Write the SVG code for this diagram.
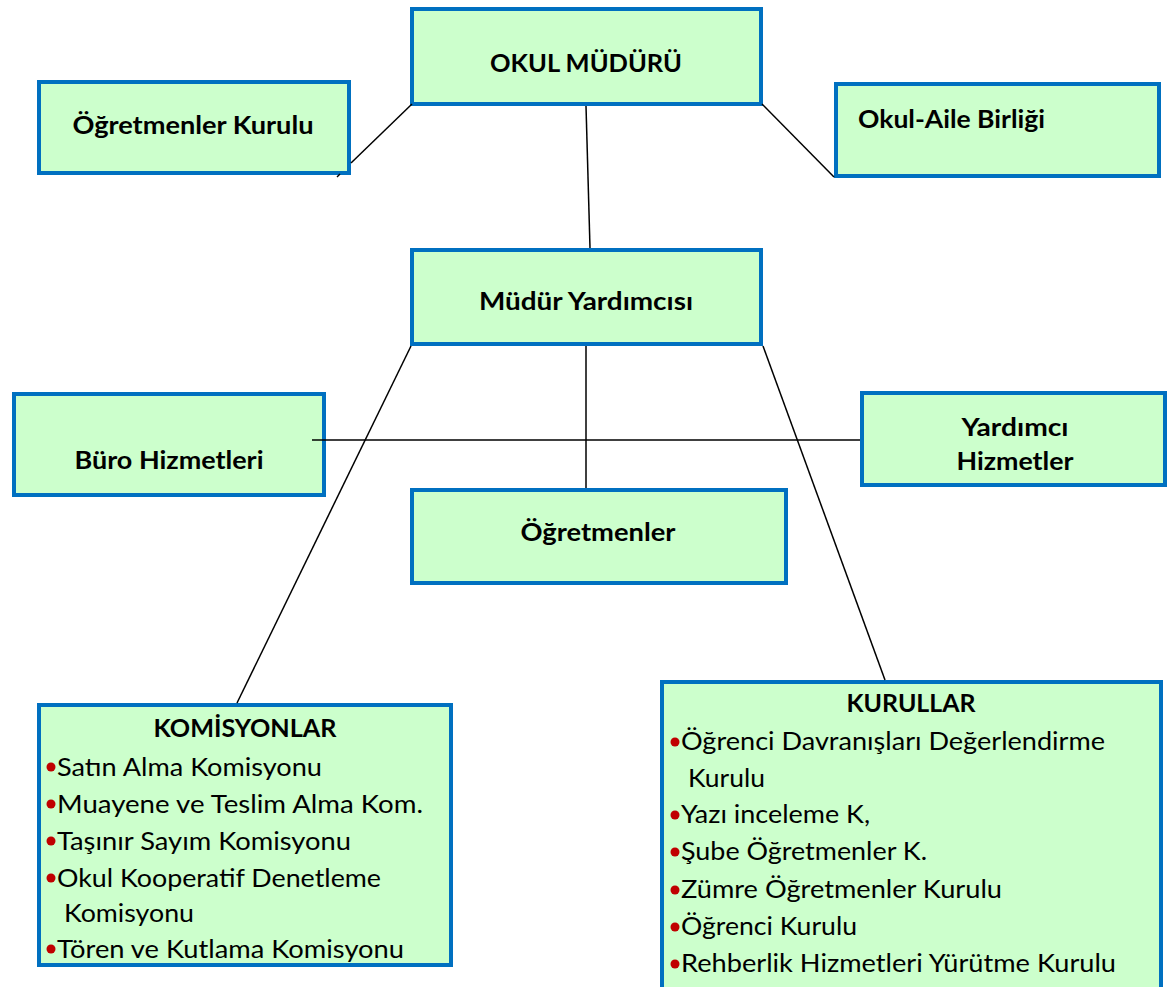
<svg xmlns="http://www.w3.org/2000/svg" width="1168" height="987" viewBox="0 0 1168 987">
<style>
.box{fill:#CCFFCC;stroke:#0070C0;stroke-width:4}
.ln{stroke:#000;stroke-width:1.5;fill:none}
.t{font-family:Lato,"Liberation Sans",sans-serif;font-weight:bold;font-size:25px;fill:#000;text-anchor:middle}
.i{font-family:Lato,"Liberation Sans",sans-serif;font-size:25px;fill:#000}
.b{fill:#C00000}
</style>
<rect width="1168" height="987" fill="#fff"/>
<g id="okul-muduru"><rect class="box" x="412" y="9" width="349" height="95"/><text class="t" x="586" y="72" textLength="192" lengthAdjust="spacingAndGlyphs">OKUL MÜDÜRÜ</text></g>
<g id="ogretmenler-kurulu"><rect class="box" x="39" y="82" width="310" height="91"/><text class="t" x="193" y="134" textLength="241" lengthAdjust="spacingAndGlyphs">Öğretmenler Kurulu</text></g>
<g id="okul-aile"><rect class="box" x="836" y="84" width="323" height="92"/><text class="t" x="858" y="128" style="text-anchor:start" textLength="187" lengthAdjust="spacingAndGlyphs">Okul-Aile Birliği</text></g>
<g id="mudur-yardimcisi"><rect class="box" x="412" y="250" width="349" height="94"/><text class="t" x="586" y="310" textLength="214" lengthAdjust="spacingAndGlyphs">Müdür Yardımcısı</text></g>
<g id="buro"><rect class="box" x="14" y="394" width="310" height="101"/><text class="t" x="169" y="469" textLength="189" lengthAdjust="spacingAndGlyphs">Büro Hizmetleri</text></g>
<g id="yardimci"><rect class="box" x="862" y="393" width="303" height="92"/><text class="t" x="1015" y="436" textLength="107" lengthAdjust="spacingAndGlyphs">Yardımcı</text><text class="t" x="1015" y="470" textLength="117" lengthAdjust="spacingAndGlyphs">Hizmetler</text></g>
<g id="ogretmenler"><rect class="box" x="412" y="490" width="374" height="93"/><text class="t" x="598" y="541" textLength="155" lengthAdjust="spacingAndGlyphs">Öğretmenler</text></g>
<g id="komisyonlar"><rect class="box" x="39" y="705" width="412" height="260"/>
<text class="t" x="245" y="737" textLength="183" lengthAdjust="spacingAndGlyphs">KOMİSYONLAR</text>
<circle class="b" cx="51" cy="767" r="4.5"/><text class="i" x="57" y="776" textLength="265" lengthAdjust="spacingAndGlyphs">Satın Alma Komisyonu</text>
<circle class="b" cx="51" cy="804" r="4.5"/><text class="i" x="57" y="813" textLength="366" lengthAdjust="spacingAndGlyphs">Muayene ve Teslim Alma Kom.</text>
<circle class="b" cx="51" cy="841" r="4.5"/><text class="i" x="57" y="850" textLength="294" lengthAdjust="spacingAndGlyphs">Taşınır Sayım Komisyonu</text>
<circle class="b" cx="51" cy="878" r="4.5"/><text class="i" x="57" y="887" textLength="324" lengthAdjust="spacingAndGlyphs">Okul Kooperatif Denetleme</text>
<text class="i" x="64" y="922" textLength="130" lengthAdjust="spacingAndGlyphs">Komisyonu</text>
<circle class="b" cx="51" cy="949" r="4.5"/><text class="i" x="57" y="958" textLength="347" lengthAdjust="spacingAndGlyphs">Tören ve Kutlama Komisyonu</text>
</g>
<g id="kurullar"><rect class="box" x="662" y="682" width="499" height="310"/>
<text class="t" x="911" y="712" textLength="129" lengthAdjust="spacingAndGlyphs">KURULLAR</text>
<circle class="b" cx="675" cy="742" r="4.5"/><text class="i" x="681" y="750" textLength="424" lengthAdjust="spacingAndGlyphs">Öğrenci Davranışları Değerlendirme</text>
<text class="i" x="688" y="787" textLength="77" lengthAdjust="spacingAndGlyphs">Kurulu</text>
<circle class="b" cx="675" cy="815" r="4.5"/><text class="i" x="681" y="823" textLength="189" lengthAdjust="spacingAndGlyphs">Yazı inceleme K,</text>
<circle class="b" cx="675" cy="852" r="4.5"/><text class="i" x="681" y="860" textLength="246" lengthAdjust="spacingAndGlyphs">Şube Öğretmenler K.</text>
<circle class="b" cx="675" cy="890" r="4.5"/><text class="i" x="681" y="898" textLength="321" lengthAdjust="spacingAndGlyphs">Zümre Öğretmenler Kurulu</text>
<circle class="b" cx="675" cy="927" r="4.5"/><text class="i" x="681" y="935" textLength="176" lengthAdjust="spacingAndGlyphs">Öğrenci Kurulu</text>
<circle class="b" cx="675" cy="964" r="4.5"/><text class="i" x="681" y="972" textLength="435" lengthAdjust="spacingAndGlyphs">Rehberlik Hizmetleri Yürütme Kurulu</text>
</g>
<g id="connectors">
<line class="ln" x1="412" y1="104" x2="351" y2="163"/>
<line class="ln" x1="340" y1="174" x2="337" y2="177"/>
<line class="ln" x1="762" y1="104" x2="834" y2="177"/>
<line class="ln" x1="586" y1="106" x2="590" y2="248"/>
<line class="ln" x1="411" y1="346" x2="237" y2="703"/>
<line class="ln" x1="586" y1="346" x2="586" y2="488"/>
<line class="ln" x1="763" y1="346" x2="885" y2="680"/>
<line class="ln" x1="312" y1="440" x2="860" y2="440"/>
</g>
</svg>
